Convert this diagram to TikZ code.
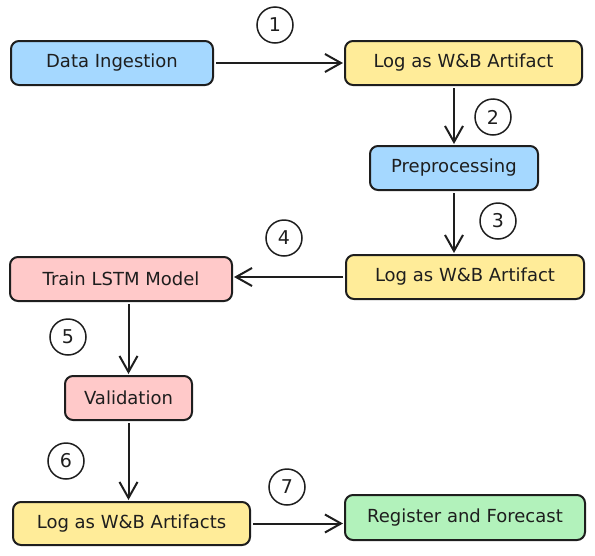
\documentclass[tikz,border=0pt]{standalone}
\usepackage{fontspec}
\setmainfont{DejaVu Sans}
\usetikzlibrary{arrows.meta,calc}
\definecolor{strk}{HTML}{1E1E1E}
\definecolor{fblue}{HTML}{A5D8FF}
\definecolor{fyellow}{HTML}{FFEC99}
\definecolor{fpink}{HTML}{FFC9C9}
\definecolor{fgreen}{HTML}{B2F2BB}
\tikzset{
  box/.style={draw=strk, line width=2pt, rounded corners=8pt, minimum height=44pt,
    inner sep=0pt, font=\fontsize{18}{20}\selectfont, text=strk},
  conn/.style={draw=strk, line width=2pt, -{Straight Barb[length=16pt,width=18pt,line width=2pt]},
    shorten <=2pt, shorten >=1pt},
  numc/.style={draw=strk, line width=1.5pt, circle, minimum size=36pt, inner sep=0pt,
    font=\fontsize{19}{20}\selectfont, text=strk}
}
\begin{document}
\begin{tikzpicture}[x=1pt,y=-1pt]
\useasboundingbox (0,0) rectangle (595,555);
\node[box, fill=fblue, minimum width=202pt] (DI) at (112,63) {Data Ingestion};
\node[box, fill=fyellow, minimum width=237pt] (L1) at (463.5,63) {Log as W\&B Artifact};
\node[box, fill=fblue, minimum width=168pt] (PP) at (454,168) {Preprocessing};
\node[box, fill=fyellow, minimum width=238pt] (L2) at (465,277) {Log as W\&B Artifact};
\node[box, fill=fpink, minimum width=222pt] (TR) at (121,279) {Train LSTM Model};
\node[box, fill=fpink, minimum width=127pt] (VA) at (128.5,398) {Validation};
\node[box, fill=fyellow, minimum width=237pt, minimum height=43pt] (L3) at (131.5,523.5) {Log as W\&B Artifacts};
\node[box, fill=fgreen, minimum width=240pt, minimum height=45pt] (RF) at (465,517.5) {Register and Forecast};

\node[numc] (n1) at (275,25) {1};
\node[numc] (n2) at (493,117) {2};
\node[numc] (n3) at (498,221) {3};
\node[numc] (n4) at (284,238) {4};
\node[numc] (n5) at (68,337) {5};
\node[numc] (n6) at (66,461) {6};
\node[numc] (n7) at (287,487) {7};

\draw[conn] (DI.east) -- (DI.east -| L1.west);
\draw[conn] (L1.south -| PP.north) -- (PP.north);
\draw[conn] (PP.south) -- (PP.south |- L2.north);
\draw[conn] (L2.west) -- (L2.west -| TR.east);
\draw[conn] (TR.south -| VA.north) -- (VA.north);
\draw[conn] (VA.south) -- (VA.south |- L3.north);
\draw[conn] (L3.east) -- (L3.east -| RF.west);
\end{tikzpicture}
\end{document}
